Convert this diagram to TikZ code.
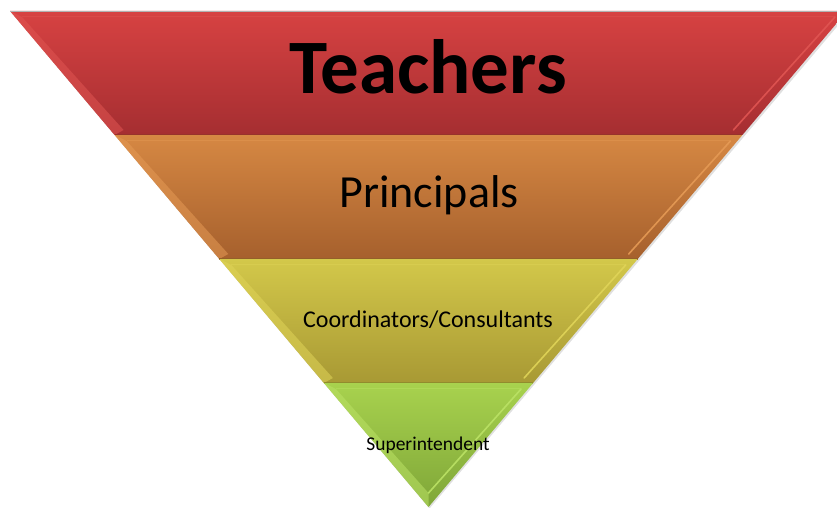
\documentclass[tikz,border=0pt]{standalone}
\usepackage{fontspec}
\setmainfont{Carlito}
\usetikzlibrary{calc}
\definecolor{rT}{HTML}{D74242}
\definecolor{rB}{HTML}{A52E31}
\definecolor{rH}{HTML}{E05552}
\definecolor{rD}{HTML}{8E2628}
\definecolor{oT}{HTML}{D68843}
\definecolor{oB}{HTML}{A6602D}
\definecolor{oH}{HTML}{E59A55}
\definecolor{oD}{HTML}{8C5026}
\definecolor{yT}{HTML}{D3C84A}
\definecolor{yB}{HTML}{A89934}
\definecolor{yH}{HTML}{E0D458}
\definecolor{yD}{HTML}{8E8229}
\definecolor{gT}{HTML}{A8D24E}
\definecolor{gB}{HTML}{7FA638}
\definecolor{gH}{HTML}{BBE265}
\definecolor{gD}{HTML}{6A8C2E}
% #1 xl top, #2 xr top, #3 y top, #4 xl bot, #5 xr bot, #6 y bot, #7 colour prefix, #8 #9 inner bottom offsets
\newcommand\drawband[9]{%
  \shade[top color=#7T,bottom color=#7B] (#1,#3) -- (#2,#3) -- (#5,#6) -- (#4,#6) -- cycle;
  \fill[#7H,opacity=0.55] (#1,#3) -- (#4,#6) -- ($(#4,#6)+(#8,#9)$) -- ($(#1,#3)+(12,-6)$) -- cycle;
  \draw[#7H,opacity=0.9,line width=1.6,line cap=round] ($(#2,#3)+(-12,-6)$) -- ($(#5,#6)+(-#8,#9)$);
  \draw[#7H,opacity=0.45,line width=1] ($(#1,#3)+(12,-6)$) -- ($(#2,#3)+(-12,-6)$);
  \draw[#7D,line width=1.2] (#4,#6) -- (#5,#6);
}
\begin{document}
\begin{tikzpicture}[x=1pt,y=1pt,
  lbl/.style={anchor=base,inner sep=0pt,text=black}]
\useasboundingbox (0,0) rectangle (837,508);
\fill[white] (0,0) rectangle (837,508);
% soft outer shadow
\fill[black,opacity=0.12] (11.5,495.5) -- (849,495.5) -- (429.5,-0.5) -- cycle;
\drawband{10}{847}{497}{114.6}{742.4}{373}{r}{9}{5}
\drawband{114.6}{742.4}{373}{219.3}{637.7}{249}{o}{9}{5}
\drawband{219.3}{637.7}{249}{323.9}{533.1}{125}{y}{9}{5}
\drawband{323.9}{533.1}{125}{428.5}{428.5}{1}{g}{0}{14}
\draw[gray!60,line width=0.8] (10,497) -- (837,497);
\node[lbl,font=\bfseries\fontsize{77}{80}\selectfont] (teachers) at (428,414) {Teachers};
\node[lbl,font=\fontsize{46}{50}\selectfont] (principals) at (429,300) {Principals};
\node[lbl,font=\fontsize{24}{26}\selectfont] (coord) at (428,180) {Coordinators/Consultants};
\node[lbl,font=\fontsize{19.5}{22}\selectfont] (super) at (428,57) {Superintendent};
\end{tikzpicture}
\end{document}
